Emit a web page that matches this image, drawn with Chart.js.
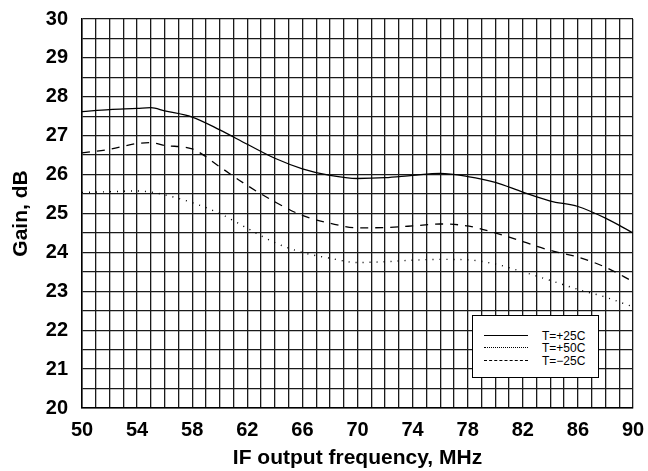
<!DOCTYPE html>
<html lang="en">
<head>
  <meta charset="UTF-8">
  <title>Gain vs IF output frequency</title>
  <script src="https://cdn.jsdelivr.net/npm/chart.js"></script>
  <style>
    body {
      margin: 0;
      padding: 0;
      background-color: #fff;
      font-family: "Liberation Sans", Arial, sans-serif;
    }
    .chart-container {
      position: relative;
      width: 648px;
      height: 471px;
    }
    /* Legend box inside the plot, bottom right */
    #legendBox {
      position: absolute;
      left: 472px;
      top: 315px;
      width: 125px;
      height: 61px;
      background-color: #fff;
      border: 1px solid #000;
      font-size: 12px;
      color: #000;
    }
    .legend-row {
      position: absolute;
      left: 11px;
      height: 13px;
      display: flex;
      align-items: center;
    }
    .legend-line {
      width: 44px;
      height: 0;
      border-top: 1px solid #000;
      margin-right: 14px;
    }
    .legend-line.dotted { border-top: 1px dotted #000; }
    .legend-line.dashed { border-top: 1px dashed #000; }
  </style>
</head>
<body>
  <div class="chart-container">
    <canvas id="gainChart"></canvas>
    <div id="legendBox">
      <div class="legend-row" style="top: 13px;"><span class="legend-line"></span><span>T=+25C</span></div>
      <div class="legend-row" style="top: 25px;"><span class="legend-line dotted"></span><span>T=+50C</span></div>
      <div class="legend-row" style="top: 38px;"><span class="legend-line dashed"></span><span>T=&minus;25C</span></div>
    </div>
  </div>

  <script>
    // Frequenzpunkte (MHz) und Gain-Werte (dB)
    const freq = [50, 52, 54, 55, 56, 58, 60, 62, 64, 66, 68, 70, 72, 74, 76, 78, 80, 82, 84, 86, 88, 90];
    const gain25 = [27.62, 27.67, 27.70, 27.72, 27.64, 27.48, 27.15, 26.78, 26.42, 26.15, 25.98, 25.90, 25.92, 25.98, 26.03, 25.95, 25.80, 25.55, 25.32, 25.18, 24.88, 24.50];
    const gain50 = [25.54, 25.56, 25.58, 25.55, 25.48, 25.28, 25.00, 24.62, 24.25, 24.00, 23.85, 23.74, 23.76, 23.80, 23.82, 23.81, 23.70, 23.50, 23.28, 23.05, 22.85, 22.60];
    const gainM25 = [26.56, 26.65, 26.80, 26.82, 26.75, 26.66, 26.20, 25.72, 25.30, 24.95, 24.75, 24.63, 24.64, 24.68, 24.73, 24.68, 24.50, 24.28, 24.05, 23.88, 23.62, 23.25];

    // Achsenbereiche und Beschriftungen
    const xMin = 50, xMax = 90, xLabelStep = 4;
    const yMin = 20, yMax = 30;

    const toPoints = values => freq.map((f, i) => ({ x: f, y: values[i] }));

    const tickFont = { family: '"Liberation Sans", Arial, sans-serif', size: 20, weight: 'bold' };
    const titleFont = { family: '"Liberation Sans", Arial, sans-serif', size: 21, weight: 'bold' };

    const ctx = document.getElementById('gainChart').getContext('2d');
    const gainChart = new Chart(ctx, {
      type: 'line',
      data: {
        datasets: [
          {
            label: 'T=+25C',
            data: toPoints(gain25),
            borderColor: '#000',
            borderWidth: 1.3
          },
          {
            label: 'T=+50C',
            data: toPoints(gain50),
            borderColor: '#000',
            borderWidth: 1.4,
            borderDash: [1, 6]
          },
          {
            label: 'T=-25C',
            data: toPoints(gainM25),
            borderColor: '#000',
            borderWidth: 1.3,
            borderDash: [8, 7]
          }
        ]
      },
      options: {
        responsive: true,
        maintainAspectRatio: false,
        animation: false,
        layout: { padding: { top: 19, right: 15, left: 0, bottom: 0 } },
        elements: {
          point: { radius: 0 },
          line: { tension: 0.35, cubicInterpolationMode: 'monotone', fill: false }
        },
        plugins: {
          legend: { display: false },
          tooltip: { enabled: false }
        },
        scales: {
          x: {
            type: 'linear',
            min: xMin,
            max: xMax,
            // feste Höhe, Überstand der Randbeschriftung ignorieren
            afterFit: scale => {
              scale.height = 63;
              scale.paddingLeft = 0;
              scale.paddingRight = 0;
            },
            border: { color: '#000', width: 1.5 },
            grid: { color: '#1a1a1a', lineWidth: 1.3, drawTicks: false },
            ticks: {
              stepSize: 1,
              autoSkip: false,
              maxRotation: 0,
              padding: 10,
              color: '#000',
              font: tickFont,
              callback: v => ((v - xMin) % xLabelStep === 0 ? v : '')
            },
            title: {
              display: true,
              text: 'IF output frequency, MHz',
              color: '#000',
              font: titleFont,
              padding: { top: 0, bottom: 0 }
            }
          },
          y: {
            min: yMin,
            max: yMax,
            afterFit: scale => {
              scale.width = 82;
              scale.paddingTop = 0;
              scale.paddingBottom = 0;
            },
            border: { color: '#000', width: 1.5 },
            grid: { color: '#1a1a1a', lineWidth: 1.3, drawTicks: false },
            ticks: {
              stepSize: 0.5,
              autoSkip: false,
              padding: 14,
              color: '#000',
              font: tickFont,
              callback: v => (Number.isInteger(v) ? v : '')
            },
            title: {
              display: true,
              text: 'Gain, dB',
              color: '#000',
              font: titleFont,
              padding: { top: 9, bottom: 0 }
            }
          }
        }
      }
    });
  </script>
</body>
</html>
